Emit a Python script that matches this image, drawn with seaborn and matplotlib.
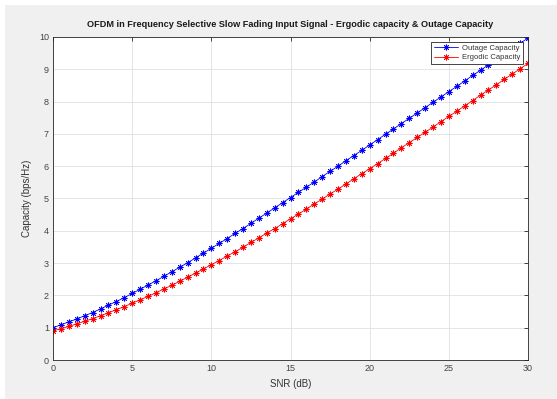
import numpy as np
import pandas as pd
import seaborn as sns
import matplotlib
matplotlib.use("Agg")
import matplotlib.pyplot as plt
from matplotlib.patches import Rectangle

snr_db = [i * 0.5 for i in range(61)]

outage_capacity = [
    1.00, 1.09, 1.18, 1.27, 1.37, 1.47, 1.58, 1.70, 1.81, 1.93,
    2.06, 2.19, 2.32, 2.45, 2.59, 2.73, 2.87, 3.01, 3.16, 3.31,
    3.46, 3.61, 3.76, 3.92, 4.07, 4.23, 4.39, 4.55, 4.71, 4.87,
    5.03, 5.19, 5.35, 5.51, 5.68, 5.84, 6.00, 6.17, 6.33, 6.49,
    6.66, 6.82, 6.99, 7.15, 7.32, 7.48, 7.65, 7.81, 7.98, 8.14,
    8.31, 8.47, 8.64, 8.81, 8.97, 9.14, 9.30, 9.47, 9.63, 9.80,
    9.97,
]

ergodic_capacity = [
    0.90, 0.97, 1.04, 1.12, 1.20, 1.28, 1.37, 1.46, 1.56, 1.65,
    1.76, 1.86, 1.97, 2.08, 2.20, 2.31, 2.44, 2.56, 2.69, 2.82,
    2.95, 3.08, 3.22, 3.35, 3.49, 3.64, 3.78, 3.93, 4.07, 4.22,
    4.37, 4.52, 4.67, 4.83, 4.98, 5.14, 5.29, 5.45, 5.61, 5.77,
    5.92, 6.08, 6.24, 6.40, 6.57, 6.73, 6.89, 7.05, 7.21, 7.38,
    7.54, 7.70, 7.87, 8.03, 8.20, 8.36, 8.52, 8.69, 8.85, 9.02,
    9.18,
]

series_names = ["Outage Capacity", "Ergodic Capacity"]
series_colors = ["#0000ff", "#ff0000"]

x_ticks = [0, 5, 10, 15, 20, 25, 30]
y_ticks = list(range(0, 11))

title = "OFDM in Frequency Selective Slow Fading Input Signal - Ergodic capacity & Outage Capacity"
x_label = "SNR (dB)"
y_label = "Capacity (bps/Hz)"

df = pd.DataFrame({
    "snr": snr_db * 2,
    "cap": outage_capacity + ergodic_capacity,
    "series": [series_names[0]] * len(snr_db) + [series_names[1]] * len(snr_db),
})

sns.set_theme(style="white")
plt.rcParams["font.family"] = ["Liberation Sans", "DejaVu Sans"]

fig = plt.figure(figsize=(5.57, 3.99), dpi=100)
fig.patch.set_facecolor("white")
fig.patches.append(Rectangle((5 / 557, 0), 1, 1 - 5 / 399, transform=fig.transFigure,
                             facecolor="#f0f0f0", edgecolor="none", zorder=-10))

ax = fig.add_axes([53 / 557, 1 - 360 / 399, (528 - 53) / 557, (360 - 37) / 399])
ax.set_facecolor("white")

sns.lineplot(data=df, x="snr", y="cap", hue="series", palette=series_colors,
             marker=(8, 2, 0), markersize=4.2, markeredgewidth=0.6,
             linewidth=0.6, ax=ax, legend=False)
for line, c in zip(ax.lines, series_colors):
    line.set_markeredgecolor(c)
    line.set_markerfacecolor(c)

ax.set_xlim(0, 30)
ax.set_ylim(0, 10)
ax.set_xticks(x_ticks)
ax.set_yticks(y_ticks)
ax.grid(True, color="#e0e0e0", linewidth=0.6)
ax.tick_params(direction="in", length=3, width=0.6, top=True, right=True,
               labelsize=6.5, colors="#262626", labelcolor="#444444", pad=3)
for sp in ax.spines.values():
    sp.set_visible(True)
    sp.set_color("#262626")
    sp.set_linewidth(0.6)

ax.set_title(title, fontsize=6.6, fontweight="bold", color="#1a1a1a", pad=7)
ax.set_xlabel(x_label, fontsize=7, color="#333333", labelpad=4)
ax.set_ylabel(y_label, fontsize=7, color="#333333", labelpad=5)

leg = ax.legend(handles=ax.lines[:2], labels=series_names, loc="upper right",
                fontsize=5.5, frameon=True, fancybox=False,
                borderpad=0.4, handlelength=3.2, labelspacing=0.25,
                borderaxespad=0.6, handletextpad=0.5)
leg.get_frame().set_edgecolor("#262626")
leg.get_frame().set_linewidth(0.6)
leg.get_frame().set_alpha(1)
for t in leg.get_texts():
    t.set_color("#333333")

fig.savefig("out.png", dpi=100)
